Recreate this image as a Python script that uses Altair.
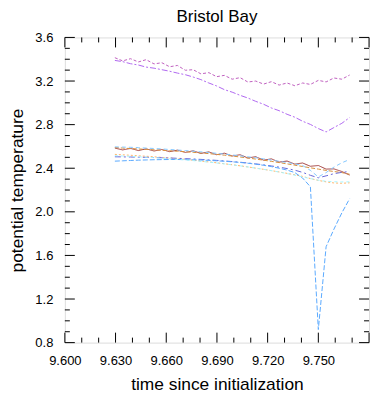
import altair as alt
import pandas as pd

# time since initialization (days), one sample every 400 s
times = [9.6296, 9.6342, 9.6389, 9.6435, 9.6481, 9.6528, 9.6574, 9.6620, 9.6666, 9.6713,
         9.6759, 9.6805, 9.6852, 9.6898, 9.6944, 9.6990, 9.7037, 9.7083, 9.7129, 9.7176,
         9.7222, 9.7268, 9.7315, 9.7361, 9.7407, 9.7453, 9.7500, 9.7546, 9.7592, 9.7639,
         9.7685]

s_a = [3.414, 3.385, 3.405, 3.375, 3.396, 3.357, 3.368, 3.331, 3.343, 3.299, 3.304,
       3.266, 3.277, 3.240, 3.252, 3.217, 3.231, 3.191, 3.200, 3.172, 3.194, 3.163,
       3.182, 3.157, 3.182, 3.169, 3.206, 3.192, 3.228, 3.217, 3.255]
s_b = [3.389, 3.378, 3.359, 3.347, 3.328, 3.318, 3.304, 3.290, 3.273, 3.258, 3.237,
       3.213, 3.182, 3.155, 3.121, 3.098, 3.069, 3.044, 3.014, 2.987, 2.953, 2.928,
       2.895, 2.868, 2.831, 2.802, 2.764, 2.733, 2.773, 2.812, 2.865]
s_c = [2.585, 2.568, 2.582, 2.562, 2.578, 2.558, 2.572, 2.552, 2.566, 2.545, 2.560,
       2.536, 2.550, 2.524, 2.538, 2.512, 2.524, 2.494, 2.506, 2.474, 2.486, 2.456,
       2.466, 2.438, 2.448, 2.418, 2.425, 2.392, 2.394, 2.370, 2.337]
s_d = [2.590, 2.585, 2.580, 2.577, 2.573, 2.569, 2.565, 2.560, 2.556, 2.551, 2.546,
       2.540, 2.534, 2.527, 2.520, 2.512, 2.503, 2.494, 2.484, 2.474, 2.463, 2.452,
       2.440, 2.428, 2.416, 2.404, 2.392, 2.380, 2.370, 2.360, 2.345]
s_e = [2.527, 2.523, 2.519, 2.514, 2.510, 2.505, 2.499, 2.494, 2.488, 2.481, 2.474,
       2.466, 2.458, 2.450, 2.441, 2.432, 2.422, 2.412, 2.401, 2.390, 2.378, 2.366,
       2.353, 2.340, 2.325, 2.305, 2.288, 2.275, 2.265, 2.262, 2.266]
s_f = [2.505, 2.504, 2.503, 2.501, 2.500, 2.498, 2.496, 2.494, 2.491, 2.488, 2.485,
       2.481, 2.477, 2.472, 2.467, 2.461, 2.455, 2.448, 2.440, 2.431, 2.421, 2.410,
       2.397, 2.382, 2.362, 2.335, 2.312, 2.330, 2.350, 2.362, 2.370]
s_g = [2.596, 2.594, 2.592, 2.589, 2.585, 2.581, 2.577, 2.572, 2.567, 2.562, 2.556,
       2.550, 2.544, 2.537, 2.530, 2.522, 2.514, 2.505, 2.496, 2.486, 2.475, 2.464,
       2.452, 2.440, 2.425, 2.380, 2.320, 2.360, 2.410, 2.450, 2.480]
s_h = [2.465, 2.468, 2.471, 2.474, 2.476, 2.478, 2.479, 2.480, 2.480, 2.479, 2.477,
       2.475, 2.472, 2.468, 2.464, 2.459, 2.453, 2.446, 2.437, 2.427, 2.415, 2.400,
       2.383, 2.360, 2.310, 2.230, 0.920, 1.680, 1.840, 1.990, 2.120]
s_i = [2.515, 2.512, 2.509, 2.505, 2.501, 2.497, 2.492, 2.487, 2.482, 2.476, 2.470,
       2.463, 2.456, 2.448, 2.440, 2.431, 2.422, 2.412, 2.401, 2.390, 2.378, 2.365,
       2.351, 2.336, 2.320, 2.305, 2.290, 2.280, 2.276, 2.274, 2.275]

series_names = ["a", "b", "c", "d", "e", "f", "g", "h", "i"]
series_vals = [s_a, s_b, s_c, s_d, s_e, s_f, s_g, s_h, s_i]
series_colors = ["#c060c0", "#b068f0", "#a03a3a", "#d8903c", "#ffb468",
                 "#6868d8", "#84c8ff", "#5aaaff", "#a4f4ff"]
series_dash = [[3, 2], [6, 2, 2, 2], [1, 0], [4, 2], [2, 2],
               [6, 3, 2, 3], [4, 3], [5, 2], [3, 3]]

x_major = [9.600, 9.630, 9.660, 9.690, 9.720, 9.750, 9.780]
x_minor = [9.610, 9.620, 9.640, 9.650, 9.670, 9.680, 9.700, 9.710,
           9.730, 9.740, 9.760, 9.770]
x_labels = [9.600, 9.630, 9.660, 9.690, 9.720, 9.750]
y_major = [0.8, 1.2, 1.6, 2.0, 2.4, 2.8, 3.2, 3.6]
y_minor = [0.9, 1.0, 1.1, 1.3, 1.4, 1.5, 1.7, 1.8, 1.9, 2.1, 2.2, 2.3,
           2.5, 2.6, 2.7, 2.9, 3.0, 3.1, 3.3, 3.4, 3.5]

W, H = 305, 306
MAJ, MIN = 10, 5
FONT = "Liberation Sans"

rows = []
for name, vals in zip(series_names, series_vals):
    for t, v in zip(times, vals):
        rows.append({"series": name, "t": t, "v": v})
df = pd.DataFrame(rows)

xs = alt.Scale(domain=[9.60, 9.78], nice=False, zero=False)
ys = alt.Scale(domain=[0.8, 3.6], nice=False, zero=False)

lines = alt.Chart(df).mark_line(strokeWidth=1, clip=True).encode(
    x=alt.X("t:Q", scale=xs,
            axis=alt.Axis(values=x_labels, format=".3f", ticks=False, domain=False,
                          grid=False, labelPadding=12, labelFontSize=13,
                          labelFlush=False, labelOverlap=False,
                          labelFont=FONT, labelColor="black",
                          title="time since initialization", titleFontSize=17.4,
                          titleFont=FONT, titleFontWeight="normal",
                          titleColor="black", titlePadding=8)),
    y=alt.Y("v:Q", scale=ys,
            axis=alt.Axis(values=y_major, format=".1f", ticks=False, domain=False,
                          grid=False, labelPadding=12, labelFontSize=13,
                          labelFlush=False, labelOverlap=False,
                          labelFont=FONT, labelColor="black",
                          title="potential temperature", titleFontSize=17.4,
                          titleFont=FONT, titleFontWeight="normal",
                          titleColor="black", titlePadding=8)),
    color=alt.Color("series:N", scale=alt.Scale(domain=series_names, range=series_colors),
                    legend=None),
    strokeDash=alt.StrokeDash("series:N",
                              scale=alt.Scale(domain=series_names, range=series_dash),
                              legend=None),
    detail="series:N",
)

xmaj = pd.DataFrame({"x": x_major})
xmin = pd.DataFrame({"x": x_minor})
ymaj = pd.DataFrame({"y": y_major})
ymin = pd.DataFrame({"y": y_minor})

def xticks(d, length):
    bottom = alt.Chart(d).mark_rule(color="black", strokeWidth=1).encode(
        x=alt.X("x:Q", scale=xs), y=alt.value(H), y2=alt.value(H - length))
    top = alt.Chart(d).mark_rule(color="black", strokeWidth=1).encode(
        x=alt.X("x:Q", scale=xs), y=alt.value(0), y2=alt.value(length))
    return [bottom, top]

def yticks(d, length):
    left = alt.Chart(d).mark_rule(color="black", strokeWidth=1).encode(
        y=alt.Y("y:Q", scale=ys), x=alt.value(0), x2=alt.value(length))
    right = alt.Chart(d).mark_rule(color="black", strokeWidth=1).encode(
        y=alt.Y("y:Q", scale=ys), x=alt.value(W), x2=alt.value(W - length))
    return [left, right]

layers = [lines] + xticks(xmaj, MAJ) + xticks(xmin, MIN) + yticks(ymaj, MAJ) + yticks(ymin, MIN)

chart = alt.layer(*layers).properties(
    width=W, height=H,
    title=alt.TitleParams("Bristol Bay", fontSize=17, font=FONT, fontWeight="normal",
                          color="black", anchor="middle", offset=5),
    autosize=alt.AutoSizeParams(type="none"),
    padding={"left": 57, "top": 29, "right": 12, "bottom": 50},
).configure_view(stroke="black", strokeWidth=1).configure(background="white")

chart.save("out.html", embed_options={"renderer": "svg", "actions": False})
